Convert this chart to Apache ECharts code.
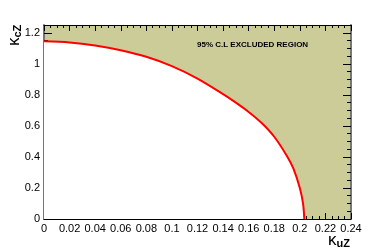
<!DOCTYPE html>
<html><head><meta charset="utf-8">
<script src="https://cdn.jsdelivr.net/npm/echarts@6/dist/echarts.min.js"></script>
<style>html,body{margin:0;padding:0;background:#fff}#c{width:391px;height:249px}</style>
</head><body><div id="c"></div>
<script>
// Boundary of the 95% C.L. excluded region (kappa_uZ, kappa_cZ)
var kuZ = [0, 0.02, 0.04, 0.06, 0.08, 0.10, 0.12, 0.14, 0.15, 0.16, 0.17, 0.18, 0.19, 0.195, 0.20, 0.2025, 0.2035];
var kcZ = [1.145, 1.138, 1.118, 1.087, 1.045, 0.985, 0.905, 0.805, 0.750, 0.690, 0.620, 0.530, 0.405, 0.325, 0.200, 0.100, 0];
var xRange = [0, 0.24], xStep = 0.02;
var yRange = [0, 1.25], yStep = 0.2;
var regionLabel = '95% C.L EXCLUDED REGION';

var pts = kuZ.map(function (x, i) { return [x, kcZ[i]]; });
var font = 'Liberation Sans, Arial, Helvetica, sans-serif';
var chart = echarts.init(document.getElementById('c'), null, {renderer: 'canvas'});
function fmtY(v) { return Math.abs(v / yStep - Math.round(v / yStep)) < 1e-6 ? String(+v.toFixed(2)) : ''; }
function fmtX(v) { return String(+v.toFixed(2)); }
var baseX = {
  type: 'value', min: xRange[0], max: xRange[1], interval: xStep,
  axisLine: {show: true, onZero: false, lineStyle: {color: '#000', width: 1}},
  axisTick: {show: true, inside: true, length: 6, lineStyle: {color: '#000'}},
  minorTick: {show: true, splitNumber: 4, length: 3, lineStyle: {color: '#000'}},
  splitLine: {show: false}
};
var baseY = {
  type: 'value', min: yRange[0], max: yRange[1], interval: yStep,
  axisLine: {show: true, onZero: false, lineStyle: {color: '#777', width: 2}},
  axisTick: {show: true, inside: true, length: 8, lineStyle: {color: '#000'}},
  minorTick: {show: true, splitNumber: 4, length: 4, lineStyle: {color: '#000'}},
  splitLine: {show: false}
};
var titleRich = {
  k: {fontSize: 17, fontFamily: font, color: '#000', verticalAlign: 'top'},
  s: {fontSize: 11, fontWeight: 'bold', fontFamily: font, color: '#000', verticalAlign: 'bottom', padding: [6, 0, 0, 0]}
};
chart.setOption({
  animation: false,
  grid: {left: 44, right: 40, top: 25, bottom: 30, show: true, backgroundColor: '#cccc99', borderWidth: 0},
  xAxis: [
    Object.assign({}, baseX, {position: 'bottom',
      axisLabel: {show: true, margin: 4, color: '#000', fontSize: 11, fontFamily: font, formatter: fmtX}}),
    Object.assign({}, baseX, {position: 'top', axisLabel: {show: false}})
  ],
  yAxis: [
    Object.assign({}, baseY, {position: 'left',
      axisLabel: {show: true, margin: 4, color: '#000', fontSize: 11, fontFamily: font, formatter: fmtY, showMaxLabel: false}}),
    Object.assign({}, baseY, {position: 'right', axisLabel: {show: false}})
  ],
  series: [{
    type: 'line', xAxisIndex: 0, yAxisIndex: 0, data: pts, smooth: 0.3,
    showSymbol: false, symbol: 'none',
    lineStyle: {color: '#ff0000', width: 2},
    areaStyle: {color: '#ffffff', opacity: 1, origin: 'start'},
    z: 1
  }],
  graphic: [
    {type: 'text', left: 197, top: 41, z: 100,
      style: {text: regionLabel, fill: '#000', font: 'bold 8px ' + font}},
    {type: 'group', x: 6, y: 46, rotation: Math.PI / 2, z: 100,
      children: [{type: 'text', x: 0, y: 0,
        style: {text: '{k|κ}{s|cZ}', align: 'left', verticalAlign: 'top', rich: titleRich}}]},
    {type: 'group', x: 328, y: 232, z: 100,
      children: [{type: 'text', x: 0, y: 0,
        style: {text: '{k|κ}{s|uZ}', align: 'left', verticalAlign: 'top', rich: titleRich}}]}
  ]
});
</script></body></html>
